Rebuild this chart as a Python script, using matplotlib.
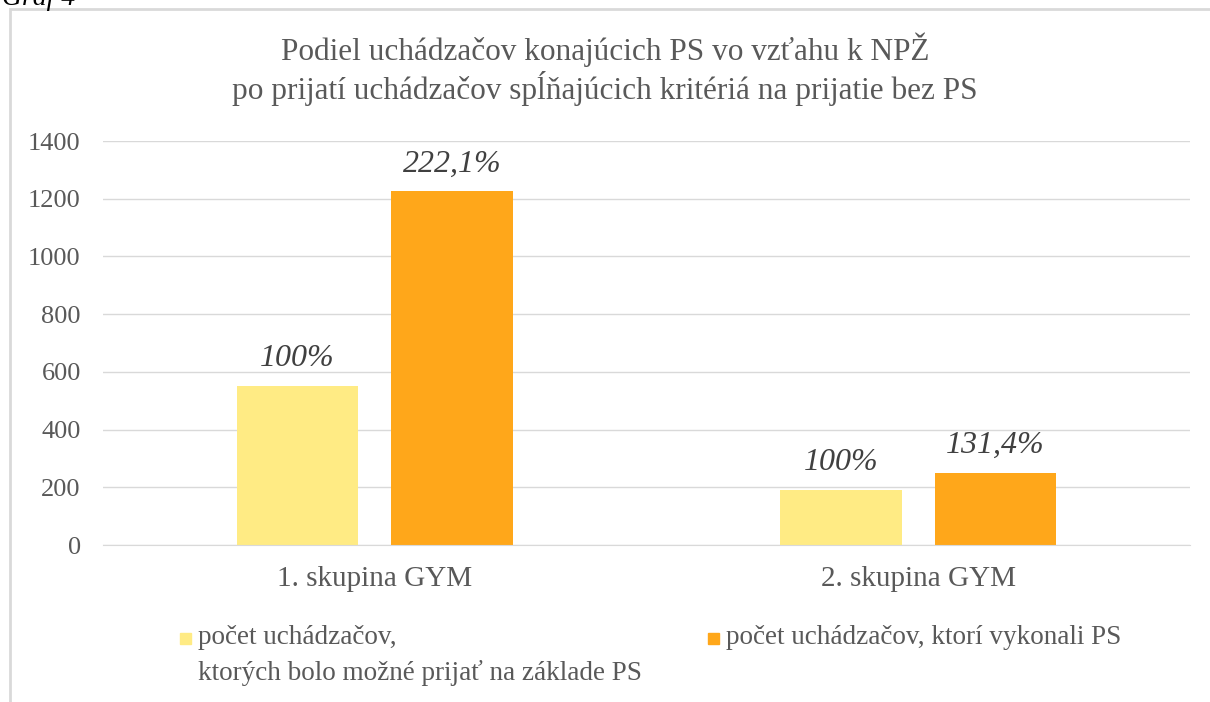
import matplotlib.pyplot as plt
import numpy as np
from matplotlib.patches import Rectangle

groups = ['1. skupina GYM', '2. skupina GYM']
series_names = ['počet uchádzačov,\nktorých bolo možné prijať na základe PS',
                'počet uchádzačov, ktorí vykonali PS']
possible = [552, 191]
performed = [1226, 251]
labels_possible = ['100%', '100%']
labels_performed = ['222,1%', '131,4%']
yticks = [0, 200, 400, 600, 800, 1000, 1200, 1400]
colors = ['#ffeb84', '#ffa71a']

plt.rcParams['font.family'] = ['Liberation Serif', 'DejaVu Serif']
gray = '#595959'

fig = plt.figure(figsize=(12.1, 7.02), dpi=100)
W, H = 1210, 702
ax = fig.add_axes([103 / W, 1 - 545 / H, (1190 - 103) / W, (545 - 141) / H])

x = np.arange(len(groups))
w = 0.223
off = 0.142
b1 = ax.bar(x - off, possible, w, color=colors[0], zorder=2)
b2 = ax.bar(x + off, performed, w, color=colors[1], zorder=2)

for bars, labs in ((b1, labels_possible), (b2, labels_performed)):
    for r, lab in zip(bars, labs):
        ax.annotate(lab, (r.get_x() + r.get_width() / 2, r.get_height()),
                    xytext=(0, 14), textcoords='offset points',
                    ha='center', va='baseline', fontsize=23, style='italic', color='#404040')

ax.set_xlim(-0.5, 1.5)
ax.set_ylim(0, 1400)
ax.set_yticks(yticks)
ax.set_xticks(x)
ax.set_xticklabels(groups)
ax.grid(axis='y', color='#d9d9d9', linewidth=1, zorder=0)
for s in ['top', 'right', 'left']:
    ax.spines[s].set_visible(False)
ax.spines['bottom'].set_color('#d9d9d9')
ax.tick_params(axis='both', length=0, labelcolor=gray)
ax.tick_params(axis='y', pad=16, labelsize=19)
ax.tick_params(axis='x', pad=15, labelsize=21)

fig.text(0.5, 1 - 50 / H, 'Podiel uchádzačov konajúcich PS vo vzťahu k NPŽ',
         ha='center', va='center', fontsize=22.5, color=gray)
fig.text(0.5, 1 - 88 / H, 'po prijatí uchádzačov spĺňajúcich kritériá na prijatie bez PS',
         ha='center', va='center', fontsize=22.5, color=gray)

# legend drawn by hand so the swatches sit on the first text line
leg_x = [180, 708]
for lx, name, c in zip(leg_x, series_names, colors):
    fig.patches.append(Rectangle((lx / W, 1 - 644 / H), 11 / W, 11 / H,
                                 transform=fig.transFigure, color=c))
    for i, line in enumerate(name.split('\n')):
        fig.text((lx + 18) / W, 1 - (638 + 35 * i) / H, line, ha='left', va='center',
                 fontsize=19.5, color=gray)

fig.text(2 / W, 1 - 5 / H, 'Graf 4', ha='left', va='baseline', fontsize=20,
         style='italic', color='black')

fig.patches.append(Rectangle((10 / W, -0.05), 1.2, 1 - 9 / H + 0.05, transform=fig.transFigure,
                             fill=False, edgecolor='#d9d9d9', linewidth=2))

fig.savefig('out.png', dpi=100)
